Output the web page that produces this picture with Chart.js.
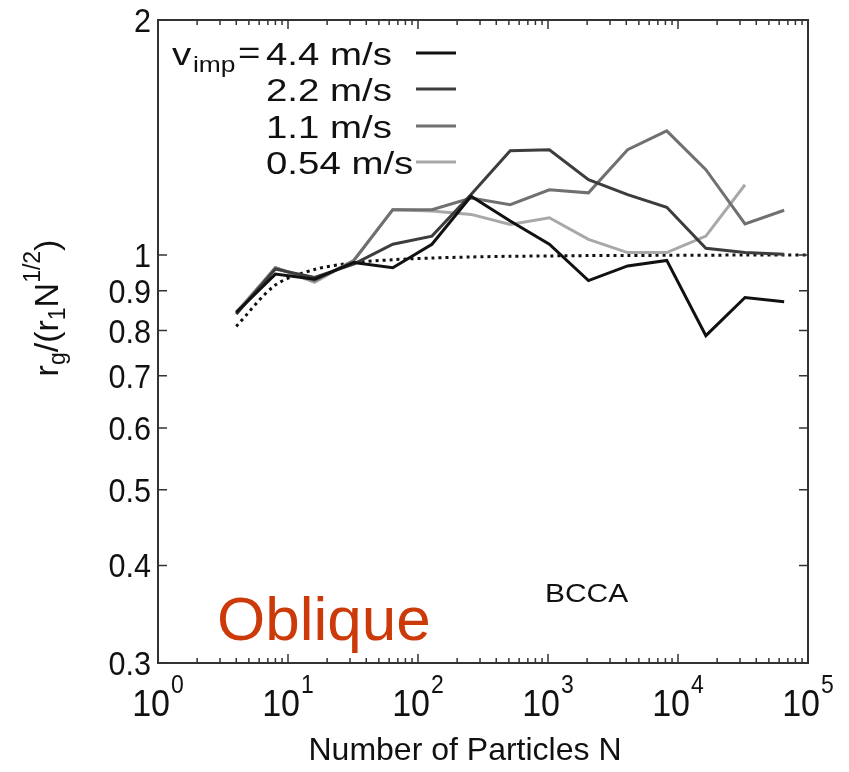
<!DOCTYPE html>
<html>
<head>
<meta charset="utf-8">
<script src="https://cdn.jsdelivr.net/npm/chart.js@4"></script>
<style>
  html, body { margin: 0; padding: 0; background: #fff; }
</style>
</head>
<body>
<canvas id="chart" width="849" height="772"></canvas>
<script>
// number of particles (x) and r_g/(r_1 N^1/2) for each impact speed
let particles = [4, 8, 16, 32, 64, 128, 256, 512, 1024, 2048, 4096, 8192, 16384, 32768, 65536];
let v44 = [0.844, 0.945, 0.931, 0.978, 0.963, 1.032, 1.189, 1.105, 1.032, 0.927, 0.968, 0.984, 0.788, 0.882, 0.871];
let v22 = [0.840, 0.959, 0.936, 0.973, 1.032, 1.057, 1.195, 1.360, 1.364, 1.249, 1.195, 1.151, 1.020, 1.007, 1.002];
let v11 = [0.840, 0.963, 0.927, 0.983, 1.143, 1.143, 1.183, 1.160, 1.212, 1.201, 1.364, 1.442, 1.286, 1.096, 1.141];
let v054 = [0.845, 0.963, 0.922, 0.984, 1.143, 1.138, 1.127, 1.094, 1.116, 1.047, 1.007, 1.007, 1.057, 1.230];
let fitN = [4, 8, 16, 32, 64, 128, 256, 512, 1024, 2048, 4096, 8192, 16384, 32768, 65536, 100000];
let fitY = [0.81, 0.915, 0.958, 0.977, 0.986, 0.991, 0.994, 0.996, 0.997, 0.998, 0.998, 0.999, 0.999, 1.0, 1.0, 1.0];

let xTicks = [1, 10, 100, 1000, 10000, 100000];
let yTicks = [0.3, 0.4, 0.5, 0.6, 0.7, 0.8, 0.9, 1, 2];
let legendLabels = ['4.4 m/s', '2.2 m/s', '1.1 m/s', '0.54 m/s'];
let lineColors = ['#111111', '#3d3d3d', '#707070', '#a8a8a8'];

function pts(xs, ys) {
   return ys.map((y, i) => ({ x: xs[i], y: y }));
}

let FONT = '"Liberation Sans", Arial, sans-serif';

function txt(ctx, s, x, y, size, align, sx, color) {
   ctx.save();
   ctx.translate(x, y);
   ctx.scale(sx, 1);
   ctx.font = size + 'px ' + FONT;
   ctx.textAlign = align;
   ctx.textBaseline = 'alphabetic';
   ctx.fillStyle = color || '#111';
   ctx.fillText(s, 0, 0);
   ctx.restore();
}

function width(ctx, s, size, sx) {
   ctx.save();
   ctx.font = size + 'px ' + FONT;
   let w = ctx.measureText(s).width * sx;
   ctx.restore();
   return w;
}

let decor = {
   id: 'decor',
   afterDatasetsDraw(chart) {
      let ctx = chart.ctx;
      let a = chart.chartArea;
      let xs = chart.scales.x, ys = chart.scales.y;

      // frame
      ctx.save();
      ctx.strokeStyle = '#333';
      ctx.lineWidth = 2;
      ctx.strokeRect(a.left, a.top, a.right - a.left, a.bottom - a.top);

      // inward ticks on all four sides
      ctx.lineWidth = 1.5;
      ctx.beginPath();
      for (let d = 0; d < 5; d++) {
         for (let m = 1; m <= 10; m++) {
            let px = xs.getPixelForValue(m * Math.pow(10, d));
            let len = (m === 1 || m === 10) ? 9 : 5;
            ctx.moveTo(px, a.bottom); ctx.lineTo(px, a.bottom - len);
            ctx.moveTo(px, a.top); ctx.lineTo(px, a.top + len);
         }
      }
      yTicks.forEach(v => {
         let py = ys.getPixelForValue(v);
         ctx.moveTo(a.left, py); ctx.lineTo(a.left + 9, py);
         ctx.moveTo(a.right, py); ctx.lineTo(a.right - 9, py);
      });
      ctx.stroke();
      ctx.restore();

      // y tick labels
      yTicks.forEach(v => {
         let py = ys.getPixelForValue(v);
         txt(ctx, String(v), a.left - 7, py + 12, 34, 'right', 0.9);
      });

      // x tick labels 10^n
      xTicks.forEach((v, i) => {
         let px = xs.getPixelForValue(v);
         let w1 = width(ctx, '10', 37, 0.92);
         let w2 = width(ctx, String(i), 25, 0.92);
         let left = px - (w1 + w2 + 1) / 2;
         txt(ctx, '10', left, 716, 37, 'left', 0.92);
         txt(ctx, String(i), left + w1 + 1, 693, 25, 'left', 0.92);
      });

      // axis titles
      txt(ctx, 'Number of Particles N', 465, 760, 32, 'center', 1.0);

      ctx.save();
      ctx.translate(58, 308);
      ctx.rotate(-Math.PI / 2);
      let parts = [
         ['r', 34, 0], ['g', 23, 7], ['/(', 34, 0], ['r', 34, 0], ['1', 23, 7],
         ['N', 34, 0], ['1/2', 23, -18], [')', 34, 0]
      ];
      let total = parts.reduce((s, p) => s + width(ctx, p[0], p[1], 1), 0);
      let cx = -total / 2;
      parts.forEach(p => {
         txt(ctx, p[0], cx, p[2], p[1], 'left', 1);
         cx += width(ctx, p[0], p[1], 1);
      });
      ctx.restore();

      // legend
      let rowY = [65, 101, 138, 174];
      txt(ctx, 'v', 172, 65, 32, 'left', 1.2);
      txt(ctx, 'imp', 193, 72, 22, 'left', 1.2);
      txt(ctx, '=', 238, 63, 32, 'left', 1.2);
      legendLabels.forEach((s, i) => {
         txt(ctx, s, 266, rowY[i], 32, 'left', 1.2);
         ctx.save();
         ctx.strokeStyle = lineColors[i];
         ctx.lineWidth = 3;
         ctx.beginPath();
         ctx.moveTo(416, rowY[i] - 12);
         ctx.lineTo(456, rowY[i] - 12);
         ctx.stroke();
         ctx.restore();
      });

      // annotations
      txt(ctx, 'BCCA', 545, 602, 26, 'left', 1.15);
      txt(ctx, 'Oblique', 217, 640, 62, 'left', 1, '#cc3a0a');
   }
};

let seriesValues = [v44, v22, v11, v054];
let datasets = seriesValues.map((vals, i) => ({
   label: legendLabels[i],
   data: pts(particles, vals),
   borderColor: lineColors[i],
   borderWidth: 3,
   pointRadius: 0,
   tension: 0,
   fill: false
}));
datasets.push({
   label: 'fit',
   data: pts(fitN, fitY),
   borderColor: '#111',
   borderWidth: 3,
   borderDash: [3, 4],
   pointRadius: 0,
   tension: 0.3,
   fill: false
});

new Chart(document.getElementById('chart').getContext('2d'), {
   type: 'line',
   data: { datasets: datasets },
   options: {
      responsive: false,
      animation: false,
      layout: { padding: { left: 158, right: 41, top: 20, bottom: 109 } },
      plugins: { legend: { display: false }, tooltip: { enabled: false } },
      scales: {
         x: { type: 'logarithmic', min: 1, max: 100000, display: false },
         y: { type: 'logarithmic', min: 0.3, max: 2, display: false }
      }
   },
   plugins: [decor]
});
</script>
</body>
</html>
